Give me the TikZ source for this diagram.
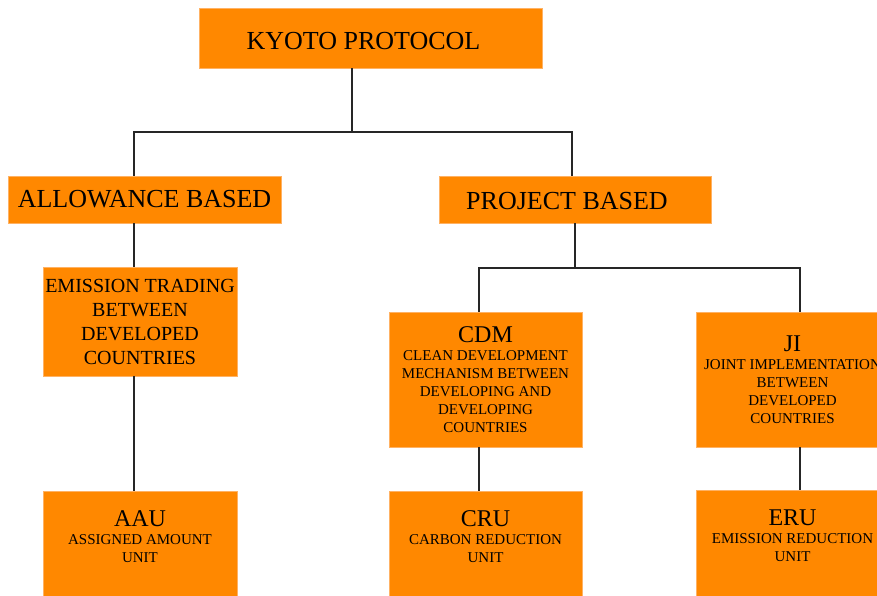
\documentclass[tikz,border=0pt]{standalone}
\usepackage{fontspec}
\setmainfont{Liberation Serif}
\definecolor{boxorange}{RGB}{255,136,0}
\definecolor{boxedge}{RGB}{255,178,100}
\begin{document}
\begin{tikzpicture}[x=1pt,y=-1pt]
	\tikzstyle{every node}+=[inner sep=0pt]
	\tikzstyle{orangebox}=[draw=boxedge, fill=boxorange, line width=0.8pt, align=center, text=black]
	\tikzstyle{headbox}=[orangebox, font=\fontsize{26}{30}\selectfont]
	\tikzstyle{mechbox}=[orangebox, minimum width=193pt, font=\fontsize{15}{18}\selectfont]
	\tikzstyle{link}=[draw=black!85, line width=1.4pt]
	\useasboundingbox (0,0) rectangle (877,596);
	\clip (0,0) rectangle (877,596);
	\node[headbox, minimum width=343pt, minimum height=60pt] (kyoto) at (370.5,38) {\raisebox{-3pt}[\height][\depth]{KYOTO PROTOCOL}\hspace*{14pt}};
	\node[headbox, minimum width=273pt, minimum height=47pt] (allow) at (144.5,199.5) {ALLOWANCE BASED};
	\node[headbox, minimum width=272pt, minimum height=47pt] (project) at (575,199.5) {\raisebox{-2pt}[\height][\depth]{PROJECT BASED}\hspace*{16pt}};
	\node[orangebox, minimum width=194pt, minimum height=109pt, font=\fontsize{20}{24}\selectfont] (trading) at (140,321.5) {EMISSION TRADING\\BETWEEN\\DEVELOPED\\COUNTRIES};
	\node[mechbox, minimum height=135pt] (cdm) at (485.5,379.5) {{\fontsize{24}{24}\selectfont CDM}\\CLEAN DEVELOPMENT\\MECHANISM BETWEEN\\DEVELOPING AND\\DEVELOPING\\COUNTRIES};
	\node[mechbox, minimum height=135pt] (ji) at (792.5,379.5) {{\fontsize{24}{24}\selectfont JI}\\JOINT IMPLEMENTATION\\BETWEEN\\DEVELOPED\\COUNTRIES};
	\node[mechbox, minimum width=194pt, minimum height=110pt] (aau) at (140,546) {{\fontsize{24}{24}\selectfont AAU}\\ASSIGNED AMOUNT\\UNIT\\\rule{0pt}{18pt}};
	\node[mechbox, minimum height=110pt] (cru) at (485.5,546) {{\fontsize{24}{24}\selectfont CRU}\\CARBON REDUCTION\\UNIT\\\rule{0pt}{18pt}};
	\node[mechbox, minimum height=110pt] (eru) at (792.5,545) {{\fontsize{24}{24}\selectfont ERU}\\EMISSION REDUCTION\\UNIT\\\rule{0pt}{18pt}};
	\coordinate (topfork) at (352,132);
	\coordinate (midfork) at (575,268);
	\coordinate (allowline) at (134,0);
	\coordinate (cdmline) at (479,0);
	\coordinate (jiline) at (800,0);
	\draw[link] (kyoto.south -| topfork) -- (topfork);
	\draw[link] (allow.north -| allowline) |- (topfork) -| ([xshift=-3pt]project.north);
	\draw[link] (allow.south -| allowline) -- (trading.north -| allowline);
	\draw[link] (trading.south -| allowline) -- (aau.north -| allowline);
	\draw[link] (project.south) -- (midfork);
	\draw[link] (cdm.north -| cdmline) |- (midfork) -| (ji.north -| jiline);
	\draw[link] (cdm.south -| cdmline) -- (cru.north -| cdmline);
	\draw[link] (ji.south -| jiline) -- (eru.north -| jiline);
\end{tikzpicture}
\end{document}
